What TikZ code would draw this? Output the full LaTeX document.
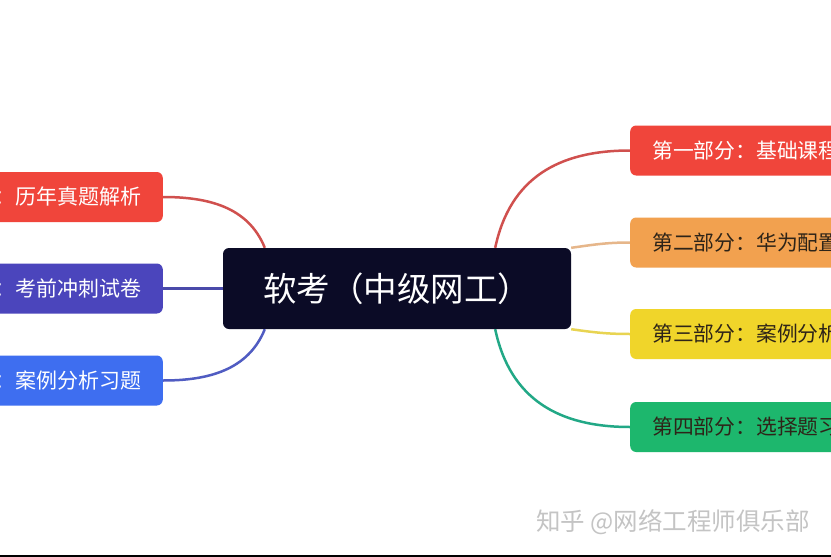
\documentclass[tikz,border=0pt]{standalone}
\usepackage{fontspec}
\setmainfont{Noto Sans CJK SC}
\usetikzlibrary{calc,backgrounds}
\definecolor{cNavy}{HTML}{0B0B26}
\definecolor{bRed}{HTML}{F0453B}
\definecolor{bOrange}{HTML}{F2A14F}
\definecolor{bYellow}{HTML}{F0D52A}
\definecolor{bGreen}{HTML}{1DB76D}
\definecolor{bPurple}{HTML}{4B45BC}
\definecolor{bBlue}{HTML}{3E6EF0}
\definecolor{lRed}{HTML}{D0504E}
\definecolor{lOrange}{HTML}{E6B68A}
\definecolor{lYellow}{HTML}{E8D452}
\definecolor{lGreen}{HTML}{22A886}
\definecolor{lPurple}{HTML}{4A4AAA}
\definecolor{lBlue}{HTML}{505CC2}
\definecolor{darkText}{HTML}{2E2418}
\definecolor{wmGray}{HTML}{C4C4C4}
\tikzset{
  centerbox/.style={fill=cNavy, rounded corners=6pt, minimum width=348pt, minimum height=81pt,
    inner sep=0pt, text=white, font=\fontsize{33.5}{33.5}\selectfont},
  rbox/.style={rounded corners=6pt, minimum height=50pt, text width=240pt, align=left,
    inner xsep=22pt, inner ysep=0pt, anchor=west, font=\fontsize{20.8}{20.8}\selectfont},
  lbox/.style={rounded corners=6pt, minimum height=50pt, text width=200pt, align=right,
    inner xsep=21pt, inner ysep=0pt, anchor=east, text=white, font=\fontsize{21}{21}\selectfont},
  conn/.style={line width=2.5pt},
  wmark/.style={text=wmGray, font=\fontsize{24.5}{24.5}\selectfont, inner sep=0pt}
}
\begin{document}
\begin{tikzpicture}[x=1pt,y=-1pt]
\useasboundingbox (0,0) rectangle (831,557);
\clip (0,0) rectangle (831,557);

% nodes
\node[centerbox] (c) at (397,288.5) {软考（中级网工）};
\node[rbox, fill=bRed, text=white] (r1) at (630,150.5) {第一部分：基础课程};
\node[rbox, fill=bOrange, text=darkText] (r2) at (630,242.5) {第二部分：华为配置};
\node[rbox, fill=bYellow, text=darkText] (r3) at (630,334) {第三部分：案例分析};
\node[rbox, fill=bGreen, text=darkText] (r4) at (630,427) {第四部分：选择题习};
\node[lbox, fill=bRed] (l1) at (163,197) {：历年真题解析};
\node[lbox, fill=bPurple] (l2) at (163,288.5) {：考前冲刺试卷};
\node[lbox, fill=bBlue] (l3) at (163,380.5) {：案例分析习题};

\node[wmark] (wm) at (673,522) {知乎 @网络工程师俱乐部};

% anchor points on the central box
\coordinate (cTR) at ($(c.north east)+(-76,0)$);
\coordinate (cBR) at ($(c.south east)+(-76,0)$);
\coordinate (cTL) at ($(c.north west)+(42,0)$);
\coordinate (cBL) at ($(c.south west)+(42,0)$);

\begin{scope}[on background layer]
  \fill[white] (0,0) rectangle (831,557);
  \draw[conn, lRed] (cTR) to[out=78, in=180, looseness=1.1] (r1.west);
  \draw[conn, lOrange] (c.north east) to[out=8, in=180] (r2.west);
  \draw[conn, lYellow] (c.south east) to[out=-8, in=180] (r3.west);
  \draw[conn, lGreen] (cBR) to[out=-78, in=180, looseness=1.1] (r4.west);
  \draw[conn, lRed] (l1.east) to[out=0, in=112] (cTL);
  \draw[conn, lPurple] (l2.east) -- (c.west);
  \draw[conn, lBlue] (l3.east) to[out=0, in=-112] (cBL);
\end{scope}

% bottom black bar
\fill[black] (0,554.5) rectangle (831,557);
\end{tikzpicture}
\end{document}
